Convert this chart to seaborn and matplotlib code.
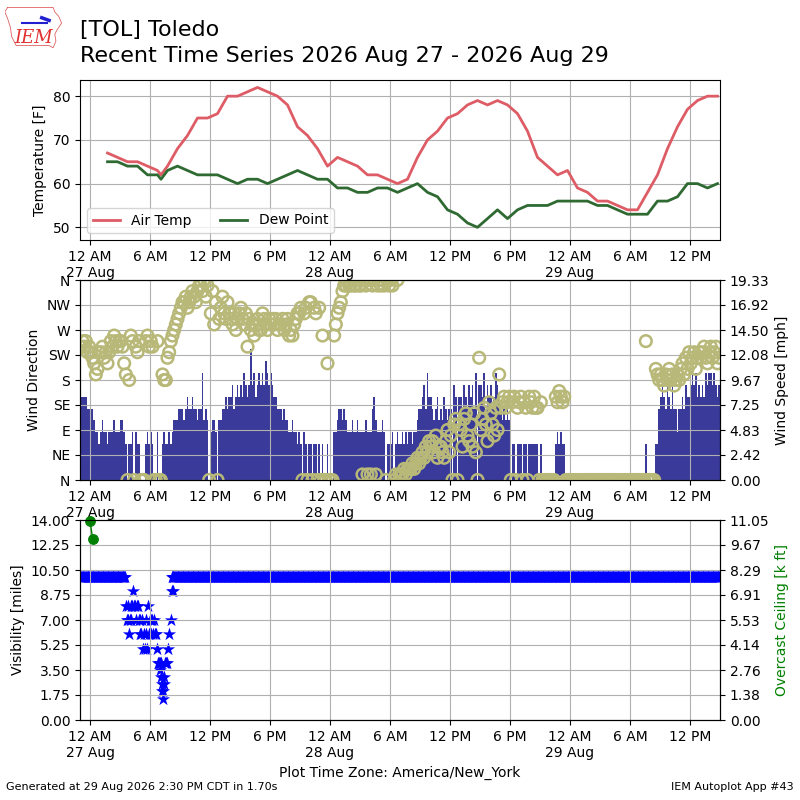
import numpy as np
import matplotlib
matplotlib.use("Agg")
import matplotlib.pyplot as plt
import seaborn as sns

KT2MPH = 1.15078

## hours after 12 AM 27 Aug (America/New_York)
obs_hours = [h + 0.75 for h in range(1, 7)] + [7.1] + [h + 0.75 for h in range(7, 63)]
air_temp = [67, 66, 65, 65, 64, 63, 62,
            64, 68, 71, 75, 75, 76, 80, 80, 81, 82,
            81, 80, 78, 73, 71, 68, 64, 66, 65, 64,
            62, 62, 61, 60, 61, 66, 70, 72, 75, 76,
            78, 79, 78, 79, 78, 76, 72, 66, 64, 62,
            63, 59, 58, 56, 56, 55, 54, 54, 58, 62,
            68, 73, 77, 79, 80, 80]
dew_point = [65, 65, 64, 64, 62, 62, 61,
             63, 64, 63, 62, 62, 62, 61, 60, 61, 61,
             60, 61, 62, 63, 62, 61, 61, 59, 59, 58,
             58, 59, 59, 58, 59, 60, 58, 57, 54, 53,
             51, 50, 52, 54, 52, 54, 55, 55, 55, 56,
             56, 56, 56, 55, 55, 54, 53, 53, 53, 56,
             56, 57, 60, 60, 59, 60]

## wind, one value every 10 minutes from 11 PM 26 Aug (knots, degrees)
wind_start = -1.0
wind_kt_26 = [7, 7, 7, 7, 6, 6]
wind_dir_26 = [240, 250, 240, 250, 230, 240]
wind_kt_27 = [
    6, 6, 5, 4, 4, 3,   4, 5, 4, 4, 3, 4,   4, 4, 5, 4, 4, 4,
    5, 5, 4, 3, 0, 3,   3, 4, 0, 4, 3, 3,   0, 0, 0, 3, 4, 3,
    4, 3, 0, 0, 4, 0,   0, 3, 4, 3, 3, 4,   3, 4, 5, 5, 5, 6,
    6, 6, 5, 6, 7, 6,   6, 7, 6, 6, 5, 6,   6, 9, 5, 6, 5, 0,
    4, 5, 5, 4, 0, 5,   5, 6, 6, 7, 6, 7,   7, 8, 6, 7, 8, 7,
    8, 7, 9, 8, 7, 8,   11, 8, 9, 7, 8, 9,  8, 9, 8, 10, 9, 8,
    9, 8, 7, 7, 6, 6,   6, 5, 6, 5, 5, 4,   4, 5, 4, 4, 3, 4,
    3, 0, 4, 3, 0, 3,   3, 0, 3, 3, 0, 3,   0, 3, 0, 0, 3, 0]
wind_dir_27 = [
    230, 220, 210, 190, 200, 230,   230, 240, 220, 230, 210, 230,
    250, 240, 260, 250, 240, 250,   250, 240, 210, 190, 0, 180,
    260, 250, 0, 240, 230, 250,     0, 0, 0, 250, 260, 240,
    250, 240, 0, 0, 250, 0,         0, 190, 180, 180, 220, 230,
    250, 260, 270, 280, 290, 300,   310, 320, 320, 330, 310, 320,
    330, 340, 330, 320, 340, 350,   350, 340, 360, 330, 350, 0,
    300, 340, 280, 320, 0, 290,     310, 330, 300, 290, 320, 300,
    290, 280, 300, 270, 290, 300,   310, 290, 280, 300, 240, 290,
    270, 280, 260, 280, 290, 270,   270, 300, 290, 280, 270, 290,
    280, 290, 280, 290, 270, 280,   280, 290, 270, 280, 290, 260,
    270, 260, 280, 290, 300, 300,   310, 0, 300, 310, 0, 320,
    320, 0, 310, 300, 0, 310,       0, 260, 0, 0, 210, 0]
wind_kt_28 = [
    0, 0, 4, 4, 5, 6,   6, 5, 6, 5, 4, 4,   4, 5, 4, 4, 5, 4,
    4, 4, 4, 5, 4, 4,   4, 6, 7, 5, 4, 4,   4, 5, 4, 0, 3, 3,
    3, 4, 0, 3, 4, 3,   3, 4, 3, 4, 3, 4,   4, 3, 4, 4, 5, 6,
    6, 7, 8, 6, 9, 7,   7, 6, 5, 6, 7, 5,   6, 5, 7, 6, 5, 6,
    6, 0, 8, 7, 0, 7,   7, 6, 8, 7, 6, 8,   7, 8, 6, 9, 0, 8,
    8, 7, 9, 6, 8, 7,   8, 6, 7, 9, 8, 7,   6, 5, 6, 5, 6, 5,
    0, 3, 3, 0, 3, 3,   3, 0, 3, 3, 0, 3,   3, 3, 3, 3, 3, 0,
    3, 0, 0, 0, 0, 0,   0, 0, 0, 3, 4, 3,   4, 3, 3, 0, 0, 0]
wind_dir_28 = [
    0, 0, 260, 280, 300, 310,       320, 340, 350, 350, 360, 350,
    350, 360, 350, 350, 360, 350,   350, 10, 360, 350, 10, 360,
    10, 350, 360, 10, 350, 360,     350, 360, 350, 0, 360, 350,
    360, 350, 0, 10, 360, 10,       10, 10, 20, 10, 20, 20,
    20, 30, 20, 30, 40, 30,         40, 50, 40, 60, 50, 70,
    60, 70, 50, 80, 40, 60,         60, 50, 40, 70, 90, 50,
    80, 0, 100, 110, 0, 100,        90, 60, 110, 120, 80, 70,
    100, 60, 120, 50, 0, 220,       90, 110, 130, 100, 70, 140,
    120, 100, 80, 130, 90, 190,     130, 140, 150, 130, 140, 150,
    0, 140, 150, 0, 130, 140,       150, 0, 140, 130, 0, 150,
    140, 130, 150, 130, 130, 0,     140, 0, 0, 0, 0, 0,
    0, 0, 0, 150, 140, 160,         150, 140, 150, 0, 0, 0]
wind_kt_29 = [
    0, 0, 0, 0, 0, 0,   0, 0, 0, 0, 0, 0,   0, 0, 0, 0, 0, 0,
    0, 0, 0, 0, 0, 0,   0, 0, 0, 0, 0, 0,   0, 0, 0, 0, 0, 0,
    0, 0, 0, 0, 0, 0,   0, 0, 0, 3, 0, 0,   0, 0, 0, 3, 3, 6,
    7, 8, 7, 6, 8, 7,   6, 8, 6, 6, 4, 6,   6, 7, 6, 8, 7, 7,
    8, 9, 8, 9, 7, 8,   7, 8, 7, 9, 8, 9,   9, 8, 9, 8, 7, 8]
wind_dir_29 = [
    0, 0, 0, 0, 0, 0,               0, 0, 0, 0, 0, 0,
    0, 0, 0, 0, 0, 0,               0, 0, 0, 0, 0, 0,
    0, 0, 0, 0, 0, 0,               0, 0, 0, 0, 0, 0,
    0, 0, 0, 0, 0, 0,               0, 0, 0, 250, 0, 0,
    0, 0, 0, 200, 190, 180,         190, 180, 170, 190, 180, 200,
    180, 190, 170, 180, 190, 180,   200, 210, 190, 220, 200, 230,
    210, 220, 230, 200, 220, 230,   220, 230, 240, 220, 210, 230,
    240, 220, 230, 240, 210, 220]
gust_hours = [17.1, 36.6, 62.0]
gust_kt = [14, 16, 16]

## visibility (miles) and overcast ceiling (k ft)
vis_clear_miles = 10.0
vis_clear_early = np.arange(-1.0, 3.55, 1 / 12)
vis_clear_late = np.arange(8.17, 63.0, 1 / 12)
vis_dip_hours = [3.60, 3.65, 3.75, 3.80, 3.90, 3.95, 4.05, 4.10, 4.20, 4.33,
                 4.40, 4.50, 4.55, 4.65, 4.75, 4.85, 4.95, 5.00, 5.10, 5.20,
                 5.30, 5.35, 5.45, 5.55, 5.60, 5.70, 5.80, 5.85, 5.95, 6.05,
                 6.10, 6.20, 6.30, 6.40, 6.50, 6.60, 6.70, 6.75, 6.85, 6.95,
                 7.00, 7.05, 7.10, 7.15, 7.20, 7.25, 7.30, 7.35, 7.40, 7.45,
                 7.55, 7.65, 7.80, 7.90, 8.05, 8.20, 8.30]
vis_dip_miles = [8, 7, 7, 8, 6, 7, 8, 7, 8, 9,
                 8, 8, 7, 8, 8, 7, 6, 7, 6, 7,
                 5, 6, 5, 7, 6, 5, 8, 6, 7, 7,
                 6, 7, 6, 7, 6, 6, 5, 4, 4, 4,
                 3.5, 4, 3, 2.5, 2, 1.5, 2, 2.5, 3, 4,
                 4, 4, 5, 6, 7, 9, 9]
ceil_hours = [0.0, 0.27]
ceil_kft = [11.0, 10.0]

tick_hours = list(range(0, 61, 6))
tick_labels = ['12 AM\n27 Aug', '6 AM', '12 PM', '6 PM',
               '12 AM\n28 Aug', '6 AM', '12 PM', '6 PM',
               '12 AM\n29 Aug', '6 AM', '12 PM']
dir_labels = ['N', 'NE', 'E', 'SE', 'S', 'SW', 'W', 'NW', 'N']

wind_kt = np.array(wind_kt_26 + wind_kt_27 + wind_kt_28 + wind_kt_29)
wind_dir = np.array(wind_dir_26 + wind_dir_27 + wind_dir_28 + wind_dir_29)
wind_hours = wind_start + np.arange(len(wind_kt)) / 6.0
wind_mph = wind_kt * KT2MPH
gust_mph = np.array(gust_kt) * KT2MPH

vis_hours = np.concatenate([vis_clear_early, vis_dip_hours, vis_clear_late])
vis_miles = np.concatenate([np.full(len(vis_clear_early), vis_clear_miles),
                            vis_dip_miles,
                            np.full(len(vis_clear_late), vis_clear_miles)])

fig = plt.figure(figsize=(8, 8), dpi=100)

# logo
lax = fig.add_axes([0.006, 0.9375, 0.071, 0.056])
lax.axis('off')
lax.set_xlim(0, 1)
lax.set_ylim(0, 1)
lax.plot([0.05, 0.85, 0.88, 0.95, 1.0, 0.92, 0.88, 0.9, 0.85, 0.78, 0.2, 0.12, 0.1, 0.05, 0.0, 0.05],
         [0.95, 0.95, 0.85, 0.75, 0.6, 0.45, 0.35, 0.2, 0.05, 0.1, 0.1, 0.3, 0.5, 0.7, 0.85, 0.95],
         color='#e06060', lw=0.6)
lax.plot([0.3, 0.75], [0.6, 0.6], color='#2020d0', lw=1.5)
lax.plot([0.65, 0.78], [0.72, 0.66], color='#2020d0', lw=2.5)
lax.text(0.5, 0.27, 'IEM', color='#e03030', fontsize=13, style='italic',
         family='DejaVu Serif', ha='center', va='center')

fig.text(0.1, 0.9625, '[TOL] Toledo', fontsize=16, va='center')
fig.text(0.1, 0.93, 'Recent Time Series 2026 Aug 27 - 2026 Aug 29', fontsize=16, va='center')

# temperature panel
ax_t = fig.add_axes([0.1, 0.7, 0.8, 0.2])
sns.lineplot(x=obs_hours, y=air_temp, ax=ax_t, color='#dd5c66', lw=2, label='Air Temp')
sns.lineplot(x=obs_hours, y=dew_point, ax=ax_t, color='#2f6a32', lw=2, label='Dew Point')
ax_t.set_ylim(47.1, 83.7)
ax_t.set_ylabel('Temperature [F]')
ax_t.legend(loc='lower left', ncol=2)
ax_t.grid(True)

# wind panel
ax_w = fig.add_axes([0.1, 0.4, 0.8, 0.25])
ax_d = ax_w.twinx()
ax_w.bar(gust_hours, gust_mph, width=0.08, color='#9c9cff', linewidth=0, zorder=0.9)
ax_w.bar(wind_hours, wind_mph, width=1 / 6, align='edge', color='#3a3a9a', linewidth=0)
ax_w.set_ylim(0, 19.333)
ax_w.set_yticks(np.linspace(0, 19.333, 9))
ax_w.set_yticklabels(['%.2f' % v for v in np.linspace(0, 19.333, 9)])
ax_w.grid(True)

sns.scatterplot(x=wind_hours + 1 / 12, y=wind_dir, ax=ax_d, color='#b8b878', s=70)
pts = ax_d.collections[-1]
pts.set_facecolor('none')
pts.set_edgecolor('#b8b878')
pts.set_linewidth(1.8)
ax_d.set_ylim(0, 360)
ax_d.set_yticks(range(0, 361, 45))
ax_d.set_yticklabels(dir_labels)

ax_w.yaxis.tick_right()
ax_w.yaxis.set_label_position('right')
ax_w.set_ylabel('Wind Speed [mph]')
ax_d.yaxis.tick_left()
ax_d.yaxis.set_label_position('left')
ax_d.set_ylabel('Wind Direction')

# visibility panel
ax_v = fig.add_axes([0.1, 0.1, 0.8, 0.25])
sns.scatterplot(x=vis_hours, y=vis_miles, ax=ax_v, marker='*', color='blue', s=100, linewidth=0)
ax_v.set_ylim(0, 14)
ax_v.set_yticks(np.linspace(0, 14, 9))
ax_v.set_yticklabels(['%.2f' % v for v in np.linspace(0, 14, 9)])
ax_v.set_ylabel('Visibility [miles]')
ax_v.set_xlabel('Plot Time Zone: America/New_York')
ax_v.grid(True)

ax_c = ax_v.twinx()
sns.lineplot(x=ceil_hours, y=ceil_kft, ax=ax_c, color='green', marker='o', markersize=7,
             markeredgecolor='green', lw=1, clip_on=False)
ax_c.set_ylim(0, 11.053)
ax_c.set_yticks(np.linspace(0, 11.053, 9))
ax_c.set_yticklabels(['%.2f' % v for v in np.linspace(0, 11.053, 9)])
ax_c.set_ylabel('Overcast Ceiling [k ft]', color='green')

for ax in (ax_t, ax_w, ax_v):
    ax.set_xlim(-1, 63)
    ax.set_xticks(tick_hours)
    ax.set_xticklabels(tick_labels)

fig.text(0.008, 0.012, 'Generated at 29 Aug 2026 2:30 PM CDT in 1.70s', fontsize=8)
fig.text(0.992, 0.012, 'IEM Autoplot App #43', fontsize=8, ha='right')

fig.savefig('out.png', dpi=100)
